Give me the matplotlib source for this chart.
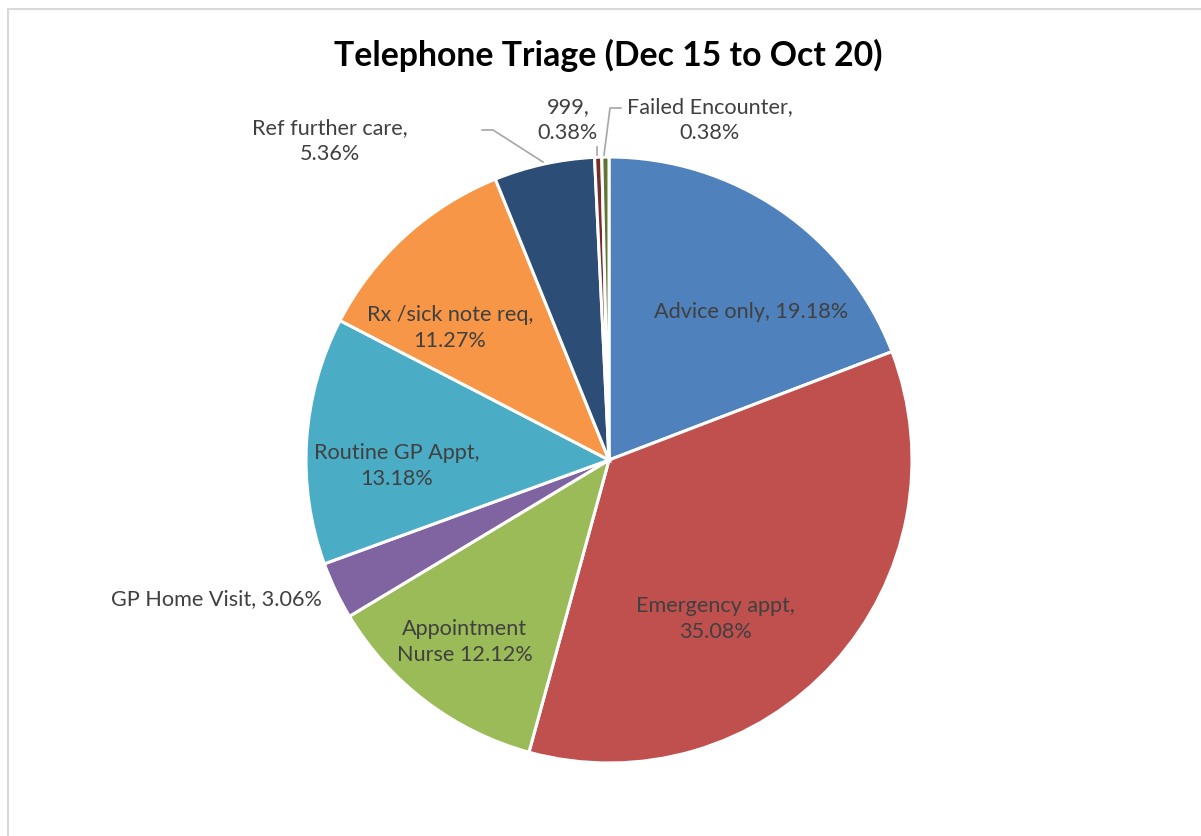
import matplotlib
matplotlib.use("Agg")
import matplotlib.pyplot as plt
from matplotlib.patches import Rectangle

plt.rcParams['font.family'] = ['Lato', 'DejaVu Sans']

# Data
categories = ['Advice only', 'Emergency appt', 'Appointment Nurse', 'GP Home Visit',
              'Routine GP Appt', 'Rx /sick note req', 'Ref further care', '999',
              'Failed Encounter']
shares = [19.18, 35.08, 12.12, 3.06, 13.18, 11.27, 5.36, 0.38, 0.38]
label_texts = ['Advice only, 19.18%', 'Emergency appt,\n35.08%', 'Appointment\nNurse 12.12%',
               'GP Home Visit, 3.06%', 'Routine GP Appt,\n13.18%', 'Rx /sick note req,\n11.27%',
               'Ref further care,\n5.36%', '999,\n0.38%', 'Failed Encounter,\n0.38%']
colors = ['#4F81BD', '#C0504D', '#9BBB59', '#8064A2', '#4BACC6', '#F79646',
          '#2C4D75', '#772C2A', '#5F7530']

W, H = 1201, 836
fig = plt.figure(figsize=(W / 100, H / 100), dpi=100)
ax = fig.add_axes([0, 0, 1, 1])

# chart frame (extends past the image on right / bottom)
ax.add_patch(Rectangle((7.5, -20), W + 40, H - 9 + 20, fill=False,
                       edgecolor='#D9D9D9', linewidth=1.5))

cx, cy, r = 609, H - 460, 303
ax.pie(shares, colors=colors, startangle=90, counterclock=False,
       center=(cx, cy), radius=r, frame=True,
       wedgeprops=dict(edgecolor='white', linewidth=2.2))
ax.set_xlim(0, W)
ax.set_ylim(0, H)
ax.set_aspect('equal')
ax.axis('off')

# label placement (pixel coords from top-left) and alignment
label_pos = [(751, 312, 'center'), (715, 619, 'center'), (465, 642, 'center'),
             (322, 599, 'right'), (397, 466, 'center'), (450, 328, 'center'),
             (330, 141, 'center'), (568, 120, 'center'), (710, 120, 'center')]
for txt, (x, y, ha) in zip(label_texts, label_pos):
    ax.text(x, H - y, txt, ha=ha, va='center', fontsize=15.6, color='#404040',
            linespacing=1.4, multialignment='center')

# leader lines
lc = '#A6A6A6'
ax.plot([482, 493, 543], [H - 130, H - 130, H - 162], color=lc, lw=1.2)
ax.plot([597, 597], [H - 147, H - 155], color=lc, lw=1.2)
ax.plot([621, 610, 604], [H - 108, H - 108, H - 155], color=lc, lw=1.2)

ax.text(608, H - 55, 'Telephone Triage (Dec 15 to Oct 20)', ha='center', va='center',
        fontsize=24.3, fontweight='bold', color='black')

fig.savefig('out.png', dpi=100)
